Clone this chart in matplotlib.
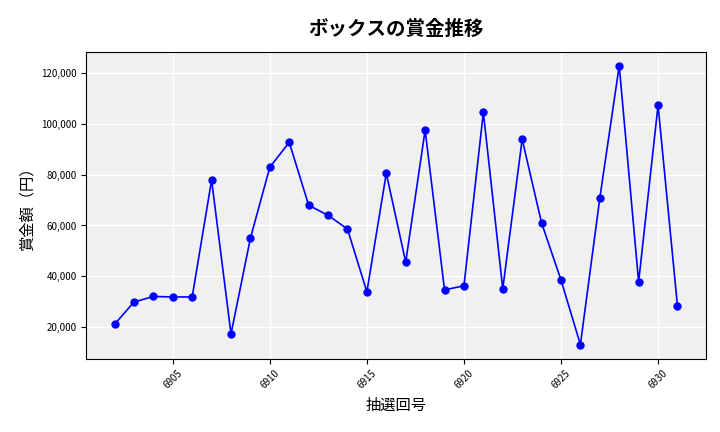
import matplotlib.pyplot as plt
from matplotlib.ticker import FuncFormatter

plt.rcParams['font.family'] = ['Noto Sans CJK JP', 'DejaVu Sans']

draws = list(range(6902, 6932))
prizes = [21000, 29800, 32000, 31800, 31800, 77900, 17200, 55000, 83000, 92800,
          68000, 64000, 58600, 33800, 80600, 45500, 97600, 34600, 36200, 104600,
          35000, 94000, 61000, 38500, 13000, 70800, 123000, 37700, 107400, 28300]

fig, ax = plt.subplots(figsize=(7.2, 4.32), dpi=100)
fig.subplots_adjust(left=0.12, right=0.98, top=0.88, bottom=0.17)
ax.set_facecolor('#f0f0f0')
ax.grid(True, color='white', linewidth=1)
ax.set_axisbelow(True)
ax.plot(draws, prizes, color='blue', marker='o', markersize=5, linewidth=1.2)
ax.set_xticks([6905, 6910, 6915, 6920, 6925, 6930])
ax.tick_params(axis='x', labelrotation=45, labelsize=7)
ax.tick_params(axis='y', labelsize=7)
ax.yaxis.set_major_formatter(FuncFormatter(lambda v, p: f'{int(v):,}'))
ax.set_title('ボックスの賞金推移', fontsize=14, fontweight='bold', pad=12)
ax.set_xlabel('抽選回号', fontsize=11)
ax.set_ylabel('賞金額（円）', fontsize=11)
fig.savefig('out.png')
